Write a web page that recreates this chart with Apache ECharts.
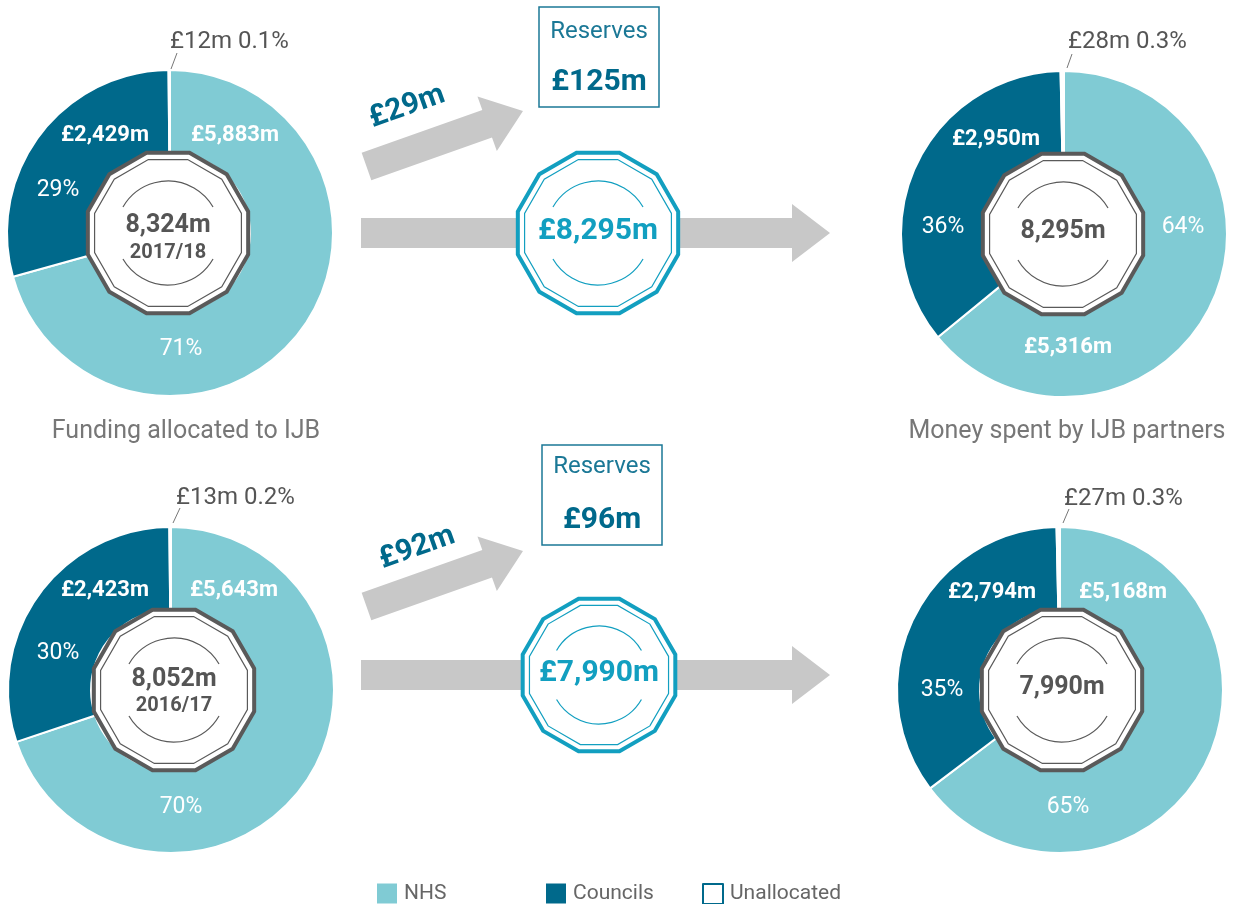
<!DOCTYPE html>
<html>
<head>
<meta charset="utf-8">
<script src="https://cdn.jsdelivr.net/npm/echarts@6/dist/echarts.min.js"></script>
<style>
  html, body { margin: 0; padding: 0; background: #fff; }
  #main { width: 1242px; height: 904px; }
</style>
</head>
<body>
<div id="main"></div>
<script>
// data
var categories = ['NHS', 'Councils', 'Unallocated'];
var funding1718 = [5883, 2429, 12];
var spent1718 = [5316, 2950, 28];
var funding1617 = [5643, 2423, 13];
var spent1617 = [5168, 2794, 27];
var pctFunding1718 = ['71%', '29%', '0.1%'];
var pctSpent1718 = ['64%', '36%', '0.3%'];
var pctFunding1617 = ['70%', '30%', '0.2%'];
var pctSpent1617 = ['65%', '35%', '0.3%'];
var totals = ['8,324m', '8,295m', '8,052m', '7,990m'];
var years = ['2017/18', '2016/17'];
var toReserves = ['£29m', '£92m'];
var reserves = ['£125m', '£96m'];
var flows = ['£8,295m', '£7,990m'];
var captions = ['Funding allocated to IJB', 'Money spent by IJB partners'];

var colors = ['#80cbd4', '#00698b', '#ffffff'];
var FONT = 'Roboto, "Liberation Sans", sans-serif';

function money(v) {
  return '£' + v.toLocaleString('en-GB') + 'm';
}

// layout of each donut (positions only)
var panels = [
  { vals: funding1718, pct: pctFunding1718, total: totals[0], year: years[0],
    c: [170, 233], coin: [168, 233], totalY: 226, yearY: 253,
    amtN: [235, 135], amtC: [105, 135], pctN: [181, 349], pctC: [58, 190],
    un: [170, 42], lead: [171, 69, 177, 53] },
  { vals: spent1718, pct: pctSpent1718, total: totals[1], year: null,
    c: [1064, 234], coin: [1063, 234], totalY: 232,
    amtN: [1068, 347], amtC: [996, 139], pctN: [1183, 227], pctC: [943, 227],
    un: [1068, 42], lead: [1067, 68, 1072, 54] },
  { vals: funding1617, pct: pctFunding1617, total: totals[2], year: years[1],
    c: [171, 690], coin: [174, 690], totalY: 680, yearY: 706,
    amtN: [234, 590], amtC: [105, 590], pctN: [181, 807], pctC: [58, 653],
    un: [176, 498], lead: [173, 523, 180, 508] },
  { vals: spent1617, pct: pctSpent1617, total: totals[3], year: null,
    c: [1060, 690], coin: [1062, 690], totalY: 688,
    amtN: [1123, 592], amtC: [992, 592], pctN: [1068, 807], pctC: [942, 690],
    un: [1064, 499], lead: [1063, 523, 1069, 509] }
];

function dodeca(cx, cy, R) {
  var pts = [];
  for (var k = 0; k < 12; k++) {
    var a = (15 + 30 * k) * Math.PI / 180;
    pts.push([cx + R * Math.cos(a), cy - R * Math.sin(a)]);
  }
  return pts;
}

function coin(cx, cy, R, r, color) {
  var gap = 30 * Math.PI / 180;
  return [
    { type: 'polygon', z: 20, shape: { points: dodeca(cx, cy, R) },
      style: { fill: '#fff', stroke: color, lineWidth: 4 } },
    { type: 'polygon', z: 21, shape: { points: dodeca(cx, cy, R - 7) },
      style: { fill: 'none', stroke: color, lineWidth: 1.2 } },
    { type: 'arc', z: 21, shape: { cx: cx, cy: cy, r: r, startAngle: -Math.PI + gap, endAngle: -gap, clockwise: true },
      style: { fill: 'none', stroke: color, lineWidth: 1.2 } },
    { type: 'arc', z: 21, shape: { cx: cx, cy: cy, r: r, startAngle: gap, endAngle: Math.PI - gap, clockwise: true },
      style: { fill: 'none', stroke: color, lineWidth: 1.2 } }
  ];
}

function txt(x, y, s, font, fill, extra) {
  var el = { type: 'text', z: 30, x: x, y: y,
    style: { text: s, font: font, fill: fill, align: 'center', verticalAlign: 'middle',
             textAlign: 'center', textVerticalAlign: 'middle' } };
  if (extra) for (var k in extra) el[k] = extra[k];
  return el;
}

var graphics = [];
var series = [];

panels.forEach(function (p) {
  series.push({
    type: 'pie',
    center: p.c,
    radius: [80, 163],
    startAngle: 90,
    clockwise: true,
    silent: true,
    label: { show: false },
    labelLine: { show: false },
    itemStyle: { borderColor: '#fff', borderWidth: 2 },
    data: categories.map(function (c, i) {
      return { name: c, value: p.vals[i], itemStyle: { color: colors[i] } };
    })
  });
  graphics = graphics.concat(coin(p.coin[0], p.coin[1], 83, 52, '#5a5a5a'));
  if (p.year) {
    graphics.push(txt(p.coin[0], p.totalY, p.total, 'bold 25px ' + FONT, '#555'));
    graphics.push(txt(p.coin[0], p.yearY, p.year, 'bold 20px ' + FONT, '#555'));
  } else {
    graphics.push(txt(p.coin[0], p.totalY, p.total, 'bold 25px ' + FONT, '#555'));
  }
  graphics.push(txt(p.amtN[0], p.amtN[1], money(p.vals[0]), 'bold 22px ' + FONT, '#fff'));
  graphics.push(txt(p.amtC[0], p.amtC[1], money(p.vals[1]), 'bold 22px ' + FONT, '#fff'));
  graphics.push(txt(p.pctN[0], p.pctN[1], p.pct[0], '23px ' + FONT, '#fff'));
  graphics.push(txt(p.pctC[0], p.pctC[1], p.pct[1], '23px ' + FONT, '#fff'));
  var un = txt(p.un[0], p.un[1], money(p.vals[2]) + ' ' + p.pct[2], '24px ' + FONT, '#555');
  un.style.align = 'left'; un.style.textAlign = 'left';
  graphics.push(un);
  graphics.push({ type: 'line', z: 30,
    shape: { x1: p.lead[0], y1: p.lead[1], x2: p.lead[2], y2: p.lead[3] },
    style: { stroke: '#777', lineWidth: 1 } });
});

// captions
graphics.push(txt(186, 432, captions[0], '25px ' + FONT, '#777'));
graphics.push(txt(1067, 432, captions[1], '25px ' + FONT, '#777'));

// flow arrows, reserves boxes and middle coins
var rows = [
  { dy: 0, coin: [598, 233], R: 83, r: 52, boxY: 7, box: [539, 120], resY: 32, valY: 82, lab: [407, 107] },
  { dy: 440, coin: [599, 675], R: 79, r: 49, boxY: 445, box: [542, 120], resY: 467, valY: 520, lab: [417, 548] }
];
var arrowGrey = '#c8c8c8';
var midBlue = '#129fc0';
var deepBlue = '#00698b';
var ang = 19.5 * Math.PI / 180;

rows.forEach(function (rw, i) {
  var y0 = rw.coin[1];
  graphics.push({ type: 'polygon', z: 5,
    shape: { points: [[361, y0 - 15], [792, y0 - 15], [792, y0 - 29], [830, y0], [792, y0 + 29], [792, y0 + 15], [361, y0 + 15]] },
    style: { fill: arrowGrey } });
  graphics.push({ type: 'polygon', z: 5, x: 366.5, y: 166.5 + rw.dy, rotation: ang,
    shape: { points: [[0, -14.5], [128, -14.5], [128, -29], [166, 0], [128, 29], [128, 14.5], [0, 14.5]] },
    style: { fill: arrowGrey } });
  graphics.push(txt(rw.lab[0], rw.lab[1], toReserves[i], 'bold 30px ' + FONT, deepBlue, { rotation: ang }));
  graphics.push({ type: 'rect', z: 5,
    shape: { x: rw.box[0], y: rw.boxY, width: rw.box[1], height: 100 },
    style: { fill: '#fff', stroke: '#1b7896', lineWidth: 1.5 } });
  graphics.push(txt(rw.box[0] + 60, rw.resY, 'Reserves', '24px ' + FONT, '#1b7896'));
  graphics.push(txt(rw.box[0] + 60, rw.valY, reserves[i], 'bold 30px ' + FONT, deepBlue));
  graphics = graphics.concat(coin(rw.coin[0], rw.coin[1], rw.R, rw.r, midBlue));
  graphics.push(txt(rw.coin[0], rw.coin[1] - 2, flows[i], 'bold 30px ' + FONT, midBlue));
});

function oneLegend(name, left, color, border) {
  return {
    left: left, top: 878, orient: 'horizontal', selectedMode: false,
    icon: 'rect', itemWidth: 20, itemHeight: 20,
    textStyle: { fontSize: 21, color: '#666', fontFamily: FONT, padding: [0, 0, 0, 2] },
    data: [{ name: name, itemStyle: { color: color, borderColor: border || color, borderWidth: border ? 2 : 0 } }]
  };
}

var chart = echarts.init(document.getElementById('main'), null, { renderer: 'canvas' });
chart.setOption({
  animation: false,
  backgroundColor: '#fff',
  legend: [
    oneLegend('NHS', 372, colors[0]),
    oneLegend('Councils', 541, colors[1]),
    oneLegend('Unallocated', 697, '#fff', deepBlue)
  ],
  series: series,
  graphic: { elements: graphics }
});
</script>
</body>
</html>
